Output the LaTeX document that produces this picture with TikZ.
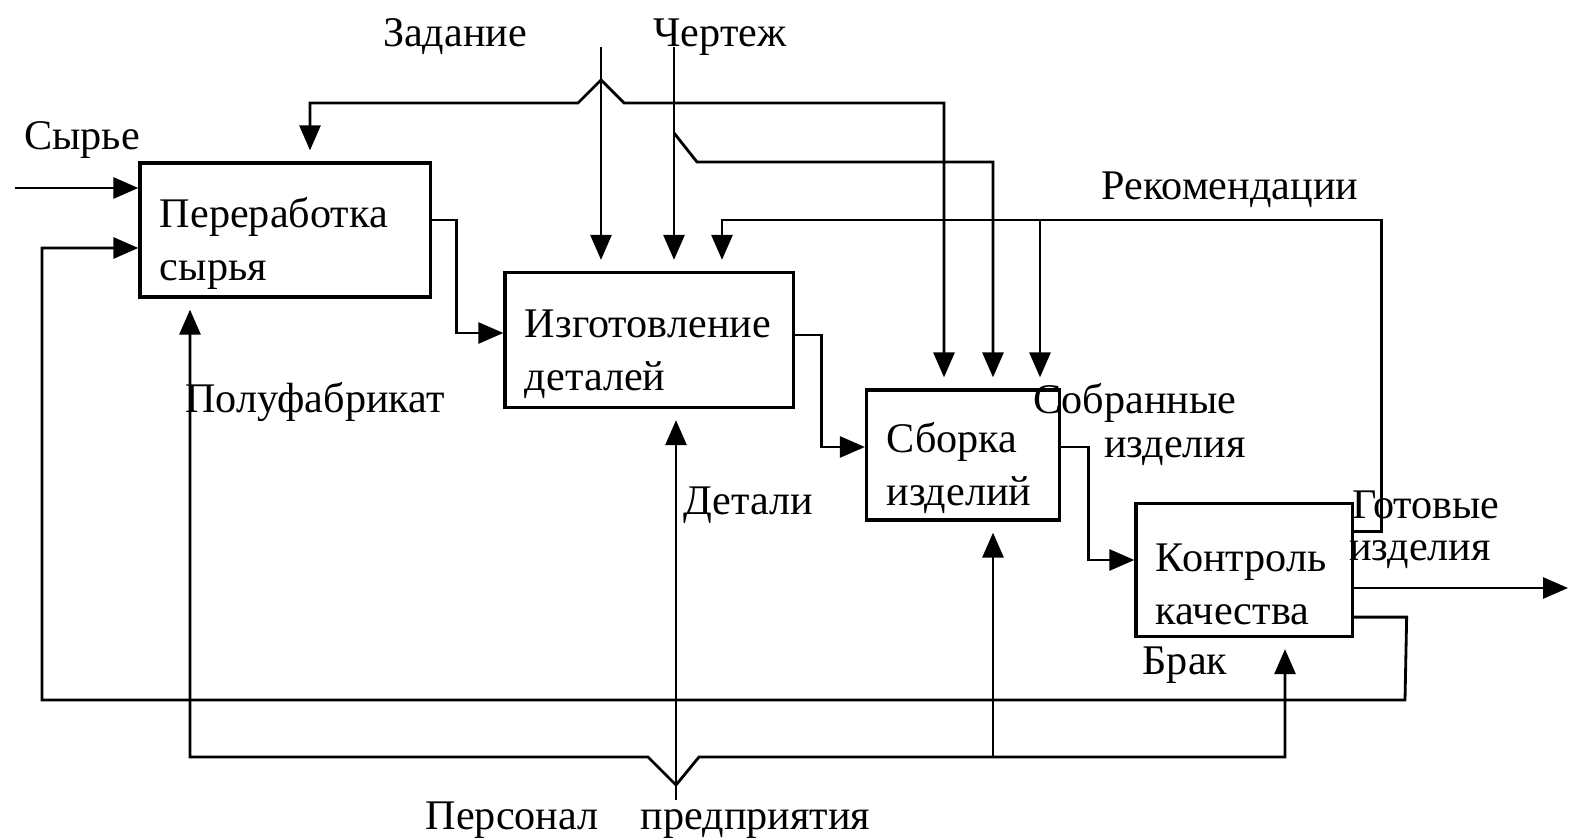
\documentclass[tikz,border=0pt]{standalone}
\usepackage{fontspec}
\setmainfont{Liberation Serif}
\usetikzlibrary{calc,arrows.meta}

\begin{document}
\begin{tikzpicture}[x=0.01cm,y=-0.01cm,
        box/.style={draw,line width=0.9pt,align=left,inner xsep=0.2cm,inner ysep=0pt,font=\fontsize{12}{15}\selectfont,
            execute at begin node={\rule{0pt}{16pt}}},
        wire/.style={line width=0.8pt},
        arr/.style={wire,-{Triangle[length=0.25cm,width=0.21cm]}},
        tip/.style={arr,shorten >=0.11cm},
        lbl/.style={font=\fontsize{12}{15}\selectfont,inner sep=0pt}]
        \useasboundingbox (0,0) rectangle (1570,840);

        % 1. Function blocks
        \node (pere) at (285,230) [box,text width=2.5cm,minimum height=1.34cm] {Переработка\\сырья};
        \node (izg) at (649,340) [box,text width=2.48cm,minimum height=1.35cm] {Изготовление\\деталей};
        \node (sbor) at (963,455) [box,text width=1.53cm,minimum height=1.3cm] {Сборка\\изделий};
        \node (kontr) at (1244,570) [box,text width=1.76cm,minimum height=1.33cm] {Контроль\\качества};

        % 2. Labels
        \node (lsyr) at (82,140) [lbl] {Сырье};
        \node (lzad) at (455,37) [lbl] {Задание};
        \node (lcher) at (720,37) [lbl] {Чертеж};
        \node (lreko) at (1230,190) [lbl] {Рекомендации};
        \node (lpolu) at (315,402) [lbl] {Полуфабрикат};
        \node (ldet) at (748,505) [lbl] {Детали};
        \node (lsob1) at (1135,403) [lbl] {Собранные};
        \node (lsob2) at (1175,452) [lbl] {изделия};
        \node (lgot1) at (1426,505) [lbl] {Готовые};
        \node (lgot2) at (1420,555) [lbl] {изделия};
        \node (lbrak) at (1185,665) [lbl] {Брак};
        \node (lpers) at (648,820) [lbl] {Персонал\quad предприятия};

        % 3. Junction points of the wires
        \coordinate (syrIn) at (15,188);
        \coordinate (zadTop) at (601,47);
        \coordinate (zadFork) at (601,80);
        \coordinate (cherTop) at (674,47);
        \coordinate (cherFork) at (674,133);
        \coordinate (xB1top) at (310,103);
        \coordinate (xB3a) at (944,103);
        \coordinate (xB3b) at (993,162);
        \coordinate (xB2r) at (722,220);
        \coordinate (xB3c) at (1040,220);
        \coordinate (outEnd) at (1568,588);
        \coordinate (brakBR) at (1405,700);
        \coordinate (brakBL) at (42,700);
        \coordinate (persBot) at (676,800);
        \coordinate (persFork) at (676,785);
        \coordinate (xB1bot) at (190,757);
        \coordinate (xB3bot) at (993,757);
        \coordinate (xB4bot) at (1285,757);

        % 4. Inputs and controls
        \draw[arr] (syrIn) -- (syrIn -| pere.west);
        \draw[tip] (zadTop) -- (zadTop |- izg.north);
        \draw[tip] (zadFork) -- ++(-23,23) -- (xB1top) -- (xB1top |- pere.north);
        \draw[tip] (zadFork) -- ++(23,23) -- (xB3a) -- (xB3a |- sbor.north);
        \draw[tip] (cherTop) -- (cherTop |- izg.north);
        \draw[tip] (cherFork) -- ++(23,29) -- (xB3b) -- (xB3b |- sbor.north);

        % 5. Flow between blocks
        \draw[arr] ($(pere.east)+(0,-10)$) -- ++(25,0) |- ($(izg.west)+(0,-7)$);
        \draw[arr] ($(izg.east)+(0,-5)$) -- ++(27,0) |- ($(sbor.west)+(0,-8)$);
        \draw[arr] ($(sbor.east)+(0,-8)$) -- ++(27,0) |- ($(kontr.west)+(0,-10)$);
        \draw[arr] ($(kontr.east)+(0,18)$) -- (outEnd);

        % 6. Feedback: recommendations and rejects
        \draw[tip] ($(kontr.north east)+(0,30)$) -- ++(28,0) |- (xB2r) -- (xB2r |- izg.north);
        \draw[tip] (xB3c) -- (xB3c |- sbor.north);
        \draw[arr] ($(kontr.south east)+(0,-21)$) -- ++(53,0) -- (brakBR) -- (brakBL) |- ($(pere.west)+(0,18)$);

        % 7. Mechanism: personnel
        \draw[tip] (persBot) -- (persBot |- izg.south);
        \draw[tip] (persFork) -- ++(-28,-28) -- (xB1bot) -- (xB1bot |- pere.south);
        \draw[tip] (persFork) -- ++(23,-28) -- (xB4bot) -- (xB4bot |- kontr.south);
        \draw[tip] (xB3bot) -- (xB3bot |- sbor.south);
\end{tikzpicture}
\end{document}
